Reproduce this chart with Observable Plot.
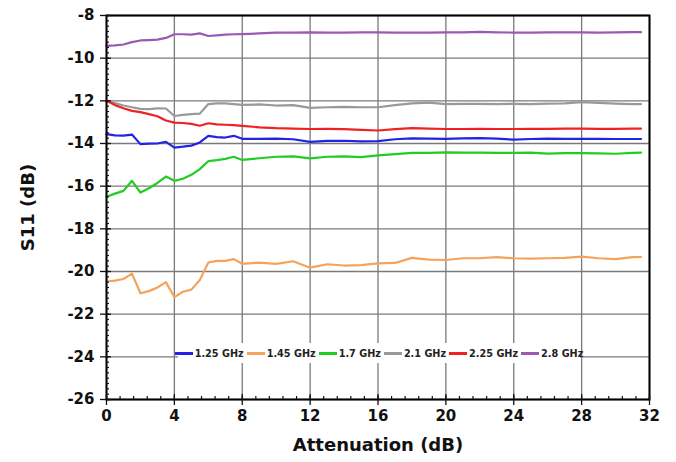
<!DOCTYPE html>
<html>
<head>
<meta charset="utf-8">
<script src="https://cdn.jsdelivr.net/npm/d3@7"></script>
<script src="https://cdn.jsdelivr.net/npm/@observablehq/plot@0.6"></script>
<style>
  html, body { margin: 0; padding: 0; background: #fff; }
  #wrap { position: relative; width: 676px; height: 462px; }
  #legend {
    position: absolute; left: 178px; top: 343px; width: 402px; height: 20px;
    background: #fff; display: flex; align-items: center; justify-content: center; gap: 3px;
    font-family: "DejaVu Sans", sans-serif; font-weight: bold; font-size: 9.7px; color: #222;
  }
  .item { display: flex; align-items: center; gap: 2px; white-space: nowrap; }
  .sw { display: inline-block; width: 18px; height: 3px; }
</style>
</head>
<body>
<div id="wrap"></div>
<script>
const atten = [0,0.5,1,1.5,2,2.5,3,3.5,4,4.5,5,5.5,6,6.5,7,7.5,8,9,10,11,12,13,14,15,16,17,18,19,20,21,22,23,24,25,26,27,28,29,30,31,31.5];

const s125 = [-13.56,-13.62,-13.63,-13.58,-14.03,-14.01,-14.0,-13.92,-14.19,-14.15,-14.1,-13.95,-13.64,-13.7,-13.72,-13.64,-13.78,-13.78,-13.77,-13.8,-13.92,-13.88,-13.87,-13.9,-13.89,-13.8,-13.76,-13.77,-13.78,-13.76,-13.75,-13.77,-13.82,-13.79,-13.77,-13.78,-13.78,-13.78,-13.79,-13.79,-13.79];
const s145 = [-20.47,-20.43,-20.35,-20.1,-21.02,-20.92,-20.75,-20.5,-21.2,-20.95,-20.85,-20.4,-19.58,-19.5,-19.5,-19.42,-19.64,-19.58,-19.64,-19.52,-19.82,-19.66,-19.72,-19.7,-19.62,-19.6,-19.36,-19.44,-19.46,-19.38,-19.38,-19.33,-19.38,-19.4,-19.38,-19.36,-19.3,-19.38,-19.42,-19.33,-19.32];
const s170 = [-16.5,-16.35,-16.22,-15.75,-16.3,-16.1,-15.85,-15.55,-15.75,-15.65,-15.47,-15.2,-14.83,-14.78,-14.72,-14.62,-14.77,-14.69,-14.62,-14.6,-14.7,-14.62,-14.6,-14.64,-14.56,-14.5,-14.44,-14.44,-14.42,-14.43,-14.43,-14.44,-14.44,-14.43,-14.47,-14.45,-14.45,-14.46,-14.48,-14.44,-14.43];
const s210 = [-12.0,-12.1,-12.22,-12.3,-12.38,-12.39,-12.35,-12.36,-12.71,-12.66,-12.62,-12.6,-12.15,-12.12,-12.12,-12.15,-12.19,-12.17,-12.22,-12.2,-12.33,-12.3,-12.28,-12.3,-12.3,-12.2,-12.12,-12.08,-12.15,-12.14,-12.14,-12.15,-12.14,-12.15,-12.13,-12.12,-12.06,-12.1,-12.13,-12.15,-12.15];
const s225 = [-12.0,-12.2,-12.35,-12.47,-12.53,-12.62,-12.72,-12.92,-13.02,-13.04,-13.08,-13.17,-13.05,-13.1,-13.12,-13.14,-13.17,-13.24,-13.28,-13.3,-13.32,-13.31,-13.33,-13.36,-13.39,-13.33,-13.28,-13.3,-13.32,-13.32,-13.31,-13.32,-13.32,-13.31,-13.31,-13.3,-13.3,-13.31,-13.31,-13.3,-13.3];
const s280 = [-9.42,-9.4,-9.36,-9.25,-9.17,-9.15,-9.13,-9.05,-8.88,-8.88,-8.9,-8.84,-8.96,-8.93,-8.9,-8.88,-8.87,-8.84,-8.8,-8.8,-8.79,-8.8,-8.8,-8.79,-8.79,-8.8,-8.8,-8.8,-8.79,-8.79,-8.77,-8.79,-8.8,-8.8,-8.79,-8.79,-8.79,-8.8,-8.79,-8.78,-8.78];

const seriesNames = ["1.25 GHz","1.45 GHz","1.7 GHz","2.1 GHz","2.25 GHz","2.8 GHz"];
const seriesValues = [s125, s145, s170, s210, s225, s280];
const seriesColors = ["#2323e6","#f5a35c","#22cc22","#999999","#ee2222","#9b59b6"];

const xTicks = [0,4,8,12,16,20,24,28,32];
const yTicks = [-8,-10,-12,-14,-16,-18,-20,-22,-24,-26];
const xMinor = d3.range(0, 32.01, 0.8);
const yMinor = d3.range(-26, -7.99, 0.25);

const rows = [];
seriesNames.forEach((name, i) => {
  atten.forEach((a, j) => rows.push({series: name, x: a, y: seriesValues[i][j]}));
});

const font = "DejaVu Sans, sans-serif";

const chart = Plot.plot({
  width: 676,
  height: 462,
  marginLeft: 106,
  marginRight: 27,
  marginTop: 15,
  marginBottom: 63,
  style: {fontFamily: font, fontWeight: "bold", fontSize: "15px", color: "#111", background: "#fff"},
  x: {domain: [0, 32]},
  y: {domain: [-26, -8]},
  color: {domain: seriesNames, range: seriesColors},
  marks: [
    Plot.gridX(xTicks, {stroke: "#7a7a7a", strokeOpacity: 1, strokeWidth: 1.3}),
    Plot.gridY(yTicks, {stroke: "#7a7a7a", strokeOpacity: 1, strokeWidth: 1.3}),
    Plot.line(rows, {x: "x", y: "y", z: "series", stroke: "series", strokeWidth: 2.2, curve: "linear"}),
    Plot.frame({stroke: "#000", strokeWidth: 2}),
    Plot.axisX(xTicks, {tickSize: 6, tickPadding: 5, strokeWidth: 1.3, fontSize: 15, fontWeight: "bold",
      label: "Attenuation (dB)", labelAnchor: "center", labelOffset: 51, labelArrow: "none"}),
    Plot.axisX(xTicks, {tickSize: -5, tickFormat: () => "", strokeWidth: 1.3, label: null}),
    Plot.axisX(xMinor, {tickSize: -3, tickFormat: () => "", strokeWidth: 1.2, label: null}),
    Plot.axisY(yTicks, {tickSize: 6, tickPadding: 6, strokeWidth: 1.3, fontSize: 15, fontWeight: "bold",
      tickFormat: d => String(d),
      label: "S11 (dB)", labelAnchor: "center", labelOffset: 85, labelArrow: "none"}),
    Plot.axisY(yTicks, {tickSize: -5, tickFormat: () => "", strokeWidth: 1.3, label: null}),
    Plot.axisY(yMinor, {tickSize: -3, tickFormat: () => "", strokeWidth: 1.2, label: null})
  ]
});

d3.select(chart).selectAll("[aria-label='x-axis label'] text, [aria-label='y-axis label'] text")
  .style("font-size", "18px").style("font-weight", "bold");

const wrap = document.getElementById("wrap");
wrap.appendChild(chart);

const legend = document.createElement("div");
legend.id = "legend";
seriesNames.forEach((name, i) => {
  const it = document.createElement("span");
  it.className = "item";
  const sw = document.createElement("span");
  sw.className = "sw";
  sw.style.background = seriesColors[i];
  const t = document.createElement("span");
  t.textContent = name;
  it.appendChild(sw); it.appendChild(t);
  legend.appendChild(it);
});
wrap.appendChild(legend);
</script>
</body>
</html>
